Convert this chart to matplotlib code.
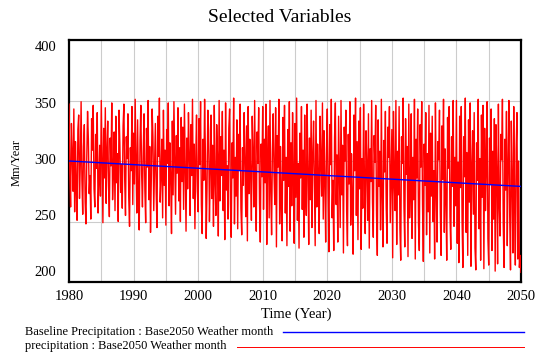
import numpy as np
import matplotlib
matplotlib.use("Agg")
import matplotlib.pyplot as plt
from matplotlib.transforms import ScaledTranslation
from matplotlib.lines import Line2D

plt.rcParams['font.family'] = ['Liberation Serif', 'DejaVu Serif']

# ---------------- data ----------------
start_year = 1980
end_year = 2050

baseline_years = [1980, 1990, 2000, 2010, 2020, 2030, 2040, 2050]
baseline_values = [300, 297, 294, 291, 288, 285, 282, 279]

precip_1980s = [347, 290, 262, 331, 305, 275, 343, 258, 316, 280, 251, 326, 338, 269, 297, 349, 284, 256, 312, 330,
                266, 248, 302, 341, 318, 273, 288, 252, 335, 309, 346, 277, 262, 322, 294, 340, 257, 283, 313, 271,
                350, 300, 249, 327, 286, 344, 265, 308, 333, 279, 254, 319, 296, 348, 268, 291, 324, 259, 337, 282,
                306, 250, 342, 315, 274, 297, 261, 329, 347, 285, 255, 320, 302, 339, 270, 246, 311, 292, 345, 264]
precip_1990s = [323, 281, 351, 300, 257, 334, 271, 243, 317, 346, 289, 262, 308, 339, 276, 249, 327, 295, 350, 268,
                312, 241, 286, 343, 320, 259, 297, 331, 274, 245, 337, 304, 352, 266, 288, 318, 253, 342, 280, 309,
                247, 326, 298, 348, 263, 315, 285, 240, 333, 272, 349, 302, 256, 321, 290, 344, 267, 311, 250, 336,
                283, 328, 260, 347, 294, 242, 319, 277, 340, 306, 255, 330, 288, 351, 269, 314, 244, 301, 338, 275]
precip_2000s = [258, 335, 297, 349, 264, 240, 318, 284, 351, 306, 236, 277, 342, 325, 250, 291, 338, 269, 313, 246,
                346, 283, 255, 330, 302, 238, 350, 267, 320, 288, 341, 259, 309, 235, 348, 276, 296, 252, 327, 343,
                265, 237, 315, 286, 352, 248, 303, 271, 334, 244, 322, 293, 347, 261, 239, 311, 280, 340, 300, 254,
                329, 234, 345, 273, 318, 290, 251, 337, 306, 262, 350, 282, 242, 324, 298, 344, 266, 233, 314, 287]
precip_2010s = [345, 260, 318, 282, 347, 231, 300, 329, 253, 350, 274, 239, 308, 339, 289, 264, 344, 229, 321, 295,
                351, 248, 312, 270, 234, 336, 284, 346, 257, 303, 230, 326, 279, 349, 242, 315, 263, 340, 292, 232,
                331, 270, 352, 251, 298, 228, 323, 286, 345, 260, 309, 237, 338, 277, 255, 347, 293, 231, 319, 268,
                342, 245, 305, 333, 280, 230, 350, 262, 314, 290, 240, 337, 300, 271, 348, 252, 325, 284, 233, 311]
precip_2020s = [343, 276, 225, 330, 297, 351, 253, 284, 226, 319, 348, 264, 305, 233, 337, 289, 245, 350, 272, 313,
                224, 328, 300, 342, 258, 230, 322, 281, 349, 247, 306, 268, 223, 338, 292, 352, 255, 316, 235, 333,
                277, 344, 227, 302, 261, 347, 287, 240, 325, 296, 251, 339, 228, 310, 283, 350, 266, 237, 321, 299,
                346, 256, 222, 334, 279, 308, 243, 351, 270, 229, 317, 291, 341, 262, 232, 328, 303, 345, 249, 286]
precip_2030s = [326, 220, 341, 283, 259, 350, 231, 308, 272, 345, 244, 218, 320, 298, 352, 262, 229, 335, 289, 312,
                221, 347, 253, 276, 339, 236, 303, 268, 351, 219, 318, 286, 343, 248, 226, 330, 295, 349, 264, 217,
                314, 280, 340, 239, 306, 258, 346, 224, 323, 271, 337, 250, 292, 219, 348, 275, 233, 316, 301, 342,
                257, 222, 329, 285, 351, 241, 310, 267, 218, 336, 294, 345, 254, 227, 320, 279, 350, 246, 303, 263]
precip_2040s = [350, 232, 299, 216, 337, 278, 345, 250, 212, 320, 287, 352, 241, 307, 222, 334, 266, 348, 213, 296,
                325, 256, 340, 228, 210, 315, 284, 351, 244, 302, 218, 338, 270, 346, 211, 327, 259, 293, 349, 236,
                214, 319, 281, 343, 226, 308, 252, 335, 209, 330, 290, 215, 347, 263, 238, 322, 301, 351, 247, 212,
                318, 276, 341, 230, 296, 350, 255, 210, 333, 284, 224, 345, 268, 214, 310, 340, 219, 300, 212, 222,
                208]

precip_values = (precip_1980s + precip_1990s + precip_2000s + precip_2010s +
                 precip_2020s + precip_2030s + precip_2040s)
precip_years = np.linspace(start_year, end_year, len(precip_values))

x_ticks = [1980, 1990, 2000, 2010, 2020, 2030, 2040, 2050]
y_ticks = [200, 250, 300, 350, 400]

title = "Selected Variables"
x_label = "Time (Year)"
y_label = "Mm/Year"
legend_labels = ["Baseline Precipitation : Base2050 Weather month",
                 "precipitation : Base2050 Weather month"]

# ---------------- figure ----------------
W, H = 535, 356
fig = plt.figure(figsize=(W / 100, H / 100), dpi=100)
ax = fig.add_axes([69 / W, 1 - 282 / H, (521 - 69) / W, (282 - 40) / H])

ax.plot(precip_years, precip_values, color='#ff0000', lw=1.0, zorder=3)
ax.plot(baseline_years, baseline_values, color='#0000ff', lw=1.0, zorder=4)

ax.set_xlim(start_year, end_year)
ax.set_ylim(200, 400)
grid_years = np.arange(1980, 2051, 5)
ax.set_xticks(grid_years)
ax.set_xticklabels([str(y) if y in x_ticks else '' for y in grid_years])
ax.set_yticks(y_ticks)
ax.set_yticklabels([str(v) for v in y_ticks])
ax.tick_params(length=0, labelsize=10.5, pad=6)
ax.tick_params(axis='y', pad=9)
ax.grid(True, color='#cccccc', lw=0.8, zorder=0)
for s in ax.spines.values():
    s.set_linewidth(1.6)
    s.set_color('black')

# Vensim-style vertical shift of y labels
offsets_px = {400: -6, 350: -2.5, 300: 2, 250: 6.5, 200: 11}
for lbl, v in zip(ax.get_yticklabels(), y_ticks):
    lbl.set_transform(lbl.get_transform() + ScaledTranslation(0, offsets_px[v] / 100, fig.dpi_scale_trans))

fig.text(280 / W, 1 - 17 / H, title, ha='center', va='center', fontsize=14)
fig.text(296 / W, 1 - 314 / H, x_label, ha='center', va='center', fontsize=10.5)
fig.text(17 / W, 1 - 162 / H, y_label, ha='center', va='center', rotation=90, fontsize=9)

fig.canvas.draw()
renderer = fig.canvas.get_renderer()
legend_rows = [(332, '#0000ff', 1.0), (346.5, '#ff0000', 0.7)]
for (yp, col, lw), lab in zip(legend_rows, legend_labels):
    t = fig.text(25 / W, 1 - yp / H, lab, ha='left', va='center', fontsize=9)
    bb = t.get_window_extent(renderer)
    x0 = (bb.x1 + 10) / W
    fig.add_artist(Line2D([x0, 524 / W], [1 - yp / H, 1 - yp / H], color=col, lw=lw,
                          transform=fig.transFigure))

fig.savefig("out.png", dpi=100)
